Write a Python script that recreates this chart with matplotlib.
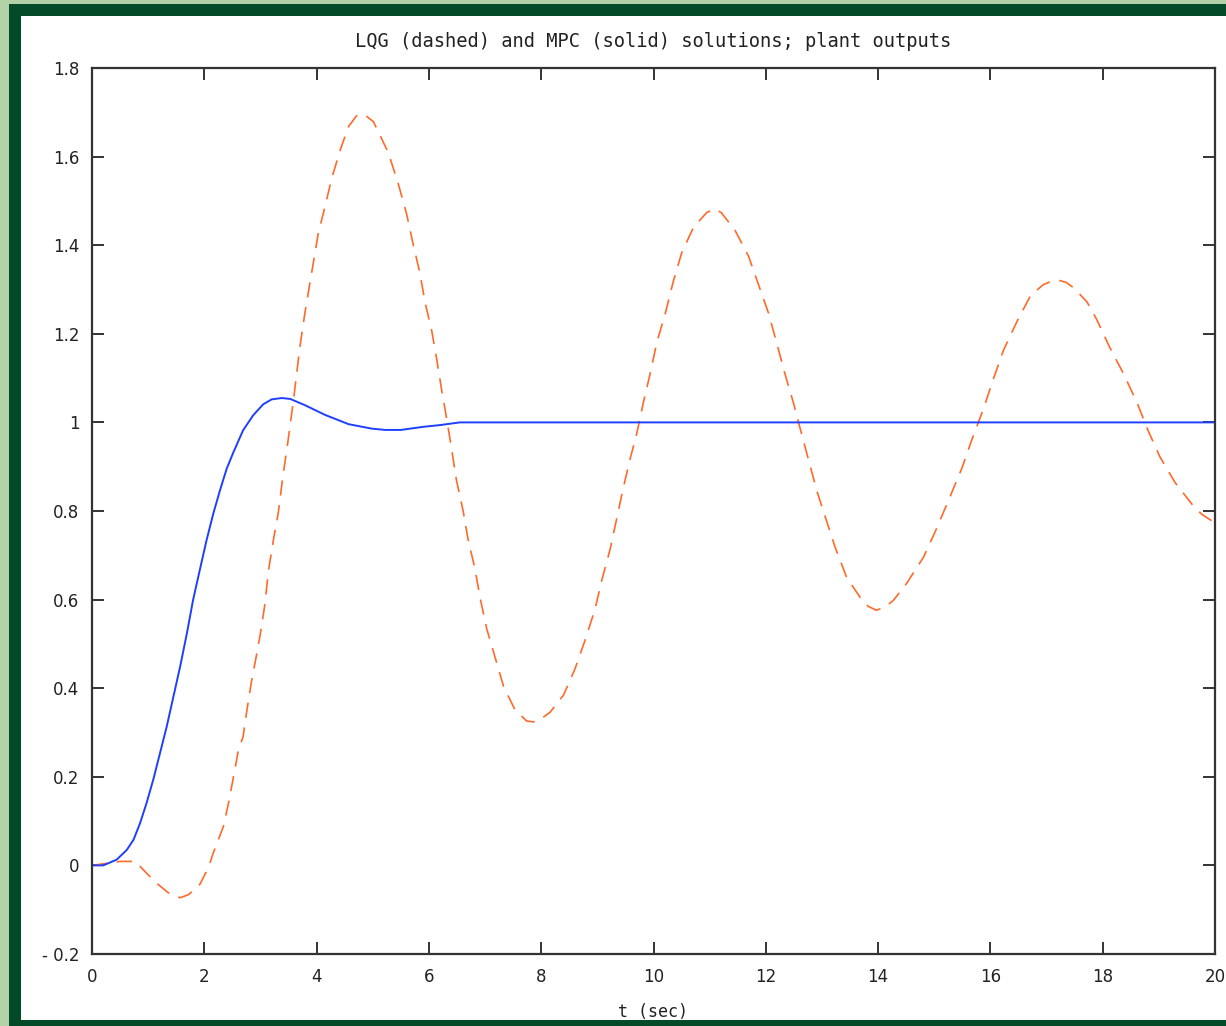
import matplotlib
matplotlib.use("Agg")
import matplotlib.pyplot as plt
from matplotlib.patches import Rectangle
from matplotlib.ticker import FixedLocator, FixedFormatter

plt.rcParams['font.family'] = ['DejaVu Sans']
plt.rcParams['lines.scale_dashes'] = False

# MPC (solid) plant output
t_mpc = [0.0, 0.20, 0.44, 0.62, 0.74, 0.855, 0.97, 1.09, 1.21, 1.33, 1.45, 1.57,
         1.69, 1.80, 1.92, 2.04, 2.16, 2.28, 2.40, 2.52, 2.69, 2.87, 3.05, 3.20,
         3.38, 3.53, 3.79, 4.15, 4.57, 4.98, 5.22, 5.50, 5.90, 6.20, 6.55, 8.0,
         12.0, 16.0, 20.0]
y_mpc = [0.0, 0.0, 0.013, 0.035, 0.058, 0.095, 0.14, 0.193, 0.253, 0.313, 0.381, 0.449,
         0.524, 0.599, 0.667, 0.734, 0.794, 0.847, 0.896, 0.933, 0.982, 1.016, 1.041, 1.052,
         1.055, 1.053, 1.039, 1.017, 0.996, 0.986, 0.983, 0.983, 0.99, 0.994, 1.0, 1.0,
         1.0, 1.0, 1.0]

# LQG (dashed) plant output
t_lqg = [0.0, 0.5, 0.77, 0.97, 1.06, 1.15, 1.36, 1.57, 1.72, 1.92, 2.07, 2.16,
         2.25, 2.34, 2.43, 2.52, 2.61, 2.69, 2.75, 2.84, 2.93, 3.00, 3.08, 3.14,
         3.23, 3.32, 3.40, 3.48, 3.59, 3.70, 3.79, 3.91, 4.03, 4.12, 4.27, 4.42,
         4.57, 4.71, 4.85, 5.01, 5.10, 5.28, 5.46, 5.60, 5.72, 5.84, 5.93,
         6.05, 6.14, 6.23, 6.32, 6.41, 6.49, 6.61, 6.70, 6.82, 6.91, 7.03, 7.18,
         7.33, 7.53, 7.74, 7.86, 7.98, 8.16, 8.40, 8.60, 8.78, 8.96, 9.08, 9.23, 9.34,
         9.46, 9.58, 9.70, 9.82, 9.94, 10.06, 10.21, 10.35, 10.50, 10.71, 10.95, 11.10,
         11.21, 11.45, 11.69, 11.87, 12.05, 12.19, 12.34, 12.49, 12.61, 12.76, 12.91, 13.06,
         13.23, 13.44, 13.68, 13.82, 13.97, 14.12, 14.27, 14.51, 14.81, 15.04, 15.28, 15.49,
         15.67, 15.88, 16.05, 16.23, 16.47, 16.71, 16.94, 17.08, 17.21, 17.35, 17.48, 17.72,
         17.89, 18.13, 18.37, 18.61, 18.81, 19.02, 19.29, 19.61, 19.76, 20.0]
y_lqg = [0.0, 0.009, 0.009, -0.017, -0.029, -0.040, -0.062, -0.073, -0.066, -0.043, -0.006, 0.028,
         0.058, 0.088, 0.140, 0.200, 0.262, 0.29, 0.343, 0.415, 0.475, 0.524, 0.59, 0.663,
         0.734, 0.798, 0.879, 0.948, 1.052, 1.168, 1.246, 1.337, 1.427, 1.472, 1.551, 1.615,
         1.668, 1.692, 1.695, 1.679, 1.656, 1.608, 1.536, 1.472, 1.402, 1.337, 1.272,
         1.207, 1.142, 1.071, 1.006, 0.935, 0.870, 0.80, 0.734, 0.67, 0.605, 0.534, 0.469,
         0.404, 0.352, 0.326, 0.324, 0.329, 0.346, 0.385, 0.443, 0.508, 0.579, 0.644, 0.715, 0.78,
         0.851, 0.916, 0.974, 1.045, 1.11, 1.181, 1.246, 1.317, 1.382, 1.44, 1.474, 1.482,
         1.473, 1.434, 1.376, 1.311, 1.246, 1.181, 1.11, 1.045, 0.987, 0.916, 0.845, 0.786,
         0.72, 0.65, 0.605, 0.585, 0.576, 0.583, 0.598, 0.637, 0.696, 0.76, 0.832, 0.896,
         0.961, 1.032, 1.097, 1.162, 1.227, 1.285, 1.311, 1.318, 1.321, 1.316, 1.304, 1.272,
         1.233, 1.168, 1.11, 1.045, 0.981, 0.922, 0.864, 0.812, 0.793, 0.773]

x_ticks = [0, 2, 4, 6, 8, 10, 12, 14, 16, 18, 20]
x_tick_labels = ['0', '2', '4', '6', '8', '10', '12', '14', '16', '18', '20']
y_ticks = [-0.2, 0, 0.2, 0.4, 0.6, 0.8, 1.0, 1.2, 1.4, 1.6, 1.8]
y_tick_labels = ['- 0.2', '0', '0.2', '0.4', '0.6', '0.8', '1', '1.2', '1.4', '1.6', '1.8']

W, H = 1226, 1026
fig = plt.figure(figsize=(W / 100, H / 100), dpi=100, facecolor='#b3d1a6')

# slide frame: dark green border around a white panel
fig.patches.append(Rectangle((9 / W, 0), 1, (H - 4) / H, transform=fig.transFigure,
                             facecolor='#024a28', edgecolor='none', zorder=-10))
fig.patches.append(Rectangle((21 / W, 6 / H), 1, (1020 - 16) / H, transform=fig.transFigure,
                             facecolor='white', edgecolor='none', zorder=-9))

ax = fig.add_axes([92 / W, 1 - 954 / H, (1215 - 92) / W, (954 - 68) / H])
ax.set_zorder(1)
ax.set_facecolor('white')

ax.plot(t_lqg, y_lqg, color='#ff6a2a', lw=1.2, dashes=(11, 7))
ax.plot(t_mpc, y_mpc, color='#1f3fff', lw=1.4)

ax.set_xlim(0, 20)
ax.set_ylim(-0.2, 1.8)
ax.xaxis.set_major_locator(FixedLocator(x_ticks))
ax.xaxis.set_major_formatter(FixedFormatter(x_tick_labels))
ax.yaxis.set_major_locator(FixedLocator(y_ticks))
ax.yaxis.set_major_formatter(FixedFormatter(y_tick_labels))

for s in ax.spines.values():
    s.set_color('#333333')
    s.set_linewidth(1.6)
ax.tick_params(direction='in', length=8.5, width=1.4, color='#333333',
               top=True, right=True, labelsize=12, labelcolor='#222222')
ax.tick_params(axis='x', pad=10)
ax.tick_params(axis='y', pad=9)

ax.set_title('LQG (dashed) and MPC (solid) solutions; plant outputs',
             fontsize=13.5, family='DejaVu Sans Mono', color='#222222', pad=15)
ax.set_xlabel('t (sec)', fontsize=12, family='DejaVu Sans Mono', color='#222222',
              labelpad=12)

fig.savefig('out.png', dpi=100, facecolor=fig.get_facecolor())
